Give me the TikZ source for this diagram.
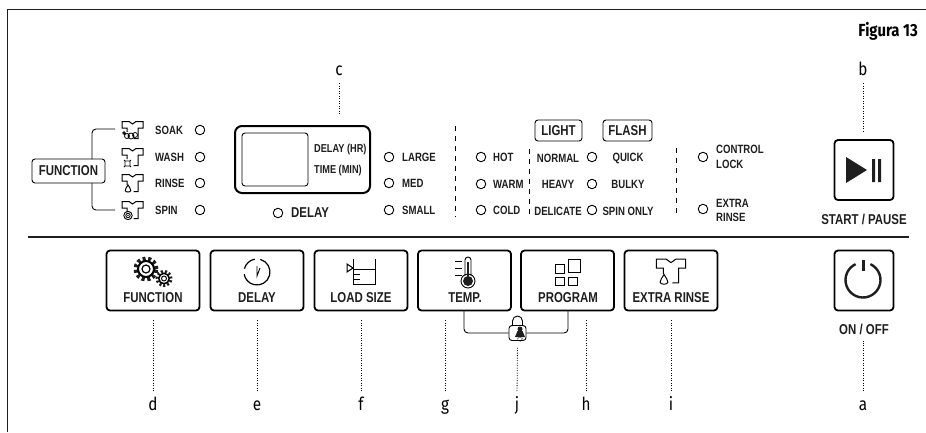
\documentclass[tikz,border=0pt]{standalone}
\usepackage{fontspec}
\usepackage{tikz}
\usetikzlibrary{arrows.meta,positioning,calc}
\newfontfamily\panelfont[FakeStretch=0.8]{Liberation Sans}
\newfontfamily\letterfont[FakeStretch=0.85]{Fira Sans}
\definecolor{panelink}{RGB}{30,30,30}

\tikzset{
    shirtbody/.pic={
        \draw[line width=1pt] (1,8.5) -- (5.5,8.5) -- (5.5,-2) -- (10.5,-2) -- (10.5,-8.5) -- (3.5,-8.5) -- (0,-6) -- (-3.5,-8.5) -- (-10.5,-8.5) -- (-10.5,-2) -- (-5.5,-2) -- (-5.5,2);
    },
    dropmark/.pic={
        \draw[line width=1pt] (0,-4) .. controls (1.2,-1.5) and (2.8,-0.5) .. (2.8,1.5) .. controls (2.8,3.5) and (-2.8,3.5) .. (-2.8,1.5) .. controls (-2.8,-0.5) and (-1.2,-1.5) .. (0,-4) -- cycle;
    }
}

\begin{document}
\begin{tikzpicture}[
    x=1pt,y=-1pt,
    lbl/.style={font=\panelfont\fontsize{12}{14}\selectfont\bfseries,inner sep=0,anchor=west,text=panelink},
    ctrlbl/.style={lbl,anchor=center},
    biglbl/.style={font=\panelfont\fontsize{14.3}{16}\selectfont\bfseries,inner sep=0,text=panelink},
    led/.style={draw,circle,line width=0.9pt,minimum size=9.5pt,inner sep=0},
    tagbox/.style={draw,line width=0.9pt,rounded corners=3pt,inner sep=0,font=\panelfont\fontsize{14.3}{16}\selectfont\bfseries,text=panelink},
    btn/.style={draw,line width=1.8pt,rounded corners=3.5pt,minimum width=93pt,minimum height=60pt,inner sep=0},
    roundbtn/.style={btn,minimum width=59pt},
    letter/.style={font=\letterfont\fontsize{18}{18}\selectfont,inner sep=0,text height=13pt,text depth=4pt,anchor=north},
    callout/.style={line width=0.8pt,dash pattern=on 0.9pt off 1.6pt},
    sepline/.style={line width=0.8pt,dash pattern=on 5pt off 5pt},
    >=Stealth
]
\useasboundingbox (0,0) rectangle (926,432);

\draw[line width=1.2pt,panelink] (7.5,432) -- (7.5,9.5) -- (926,9.5);
\draw[line width=1.2pt,panelink] (28,237) -- (909,237);
\node[inner sep=0,anchor=east,font=\letterfont\fontsize{17.5}{18}\selectfont\bfseries] (figtitle) at (918,31) {Figura 13};

\node[tagbox,minimum width=73pt,minimum height=24pt] (fnlabel) at (68.5,171) {FUNCTION};
\pic at (132.5,130) {shirtbody};
\pic at (132.5,157) {shirtbody};
\pic at (132.5,183) {shirtbody};
\pic at (132.5,210) {shirtbody};
\draw[line width=0.8pt,fill=white] (124,133) circle[radius=1.2pt] (127,136) circle[radius=2.5pt] (131,136) circle[radius=3pt] (135,135) circle[radius=2.5pt];
\draw[line width=0.8pt] (125,161) rectangle (130,166) (124,160) -- (125,161) (131,160) -- (130,161) (124,167) -- (125,166) (131,167) -- (130,166);
\pic at (128,189) {dropmark};
\draw[line width=0.9pt] (128,215.5) circle[radius=4.2pt] (128,215.5) circle[radius=2.2pt];
\fill[panelink] (128,215.5) circle[radius=0.8pt];

\coordinate (soakend) at (115,129);
\coordinate (spinend) at (115,210);
\coordinate (fntop) at (92,159);
\coordinate (fnbottom) at (92,183);
\draw[line width=0.9pt,rounded corners=4pt] (soakend) -| (fntop);
\draw[line width=0.9pt,rounded corners=4pt] (spinend) -| (fnbottom);

\node[lbl] (soak) at (155,130) {SOAK};
\node[lbl] (wash) at (155,157) {WASH};
\node[lbl] (rinse) at (155,183) {RINSE};
\node[lbl] (spin) at (155,210) {SPIN};
\node[led] (ledsoak) at (200,130) {};
\node[led] (ledwash) at (200,157) {};
\node[led] (ledrinse) at (200,183) {};
\node[led] (ledspin) at (200,210) {};

\node[draw,line width=2pt,rounded corners=7pt,minimum width=135pt,minimum height=67pt,inner sep=0] (display) at (302.5,159.5) {};
\node[draw,line width=0.9pt,rounded corners=3pt,minimum width=66pt,minimum height=53pt,inner sep=0] (screen) at (275,159.5) {};
\node[lbl,font=\panelfont\fontsize{11.5}{14}\selectfont\bfseries] (delayhr) at (314,150) {DELAY (HR)};
\node[lbl,font=\panelfont\fontsize{11.5}{14}\selectfont\bfseries] (timemin) at (314,171) {TIME (MIN)};
\node[led] (leddelay) at (278,213) {};
\node[biglbl,anchor=west] (delaytext) at (291,213) {DELAY};

\node[led] (ledlarge) at (389,157) {};
\node[led] (ledmed) at (389,183) {};
\node[led] (ledsmall) at (389,210) {};
\node[lbl] (large) at (402,157) {LARGE};
\node[lbl] (med) at (402,183) {MED};
\node[lbl] (small) at (402,210) {SMALL};

\draw[sepline] (455,126) -- (455,217);
\draw[sepline] (529,149) -- (529,218);
\draw[sepline] (676,148) -- (676,217);

\node[led] (ledhot) at (481,157) {};
\node[led] (ledwarm) at (481,184) {};
\node[led] (ledcold) at (481,210) {};
\node[lbl] (hot) at (493,157) {HOT};
\node[lbl] (warm) at (493,184) {WARM};
\node[lbl] (cold) at (493,210) {COLD};

\node[tagbox,minimum width=47pt,minimum height=21pt] (light) at (558.5,130.5) {LIGHT};
\node[tagbox,minimum width=49pt,minimum height=21pt] (flash) at (627.5,130.5) {FLASH};
\node[ctrlbl] (normal) at (558,158) {NORMAL};
\node[ctrlbl] (heavy) at (558,184) {HEAVY};
\node[ctrlbl] (delicate) at (558,211) {DELICATE};
\node[led] (lednormal) at (592,157) {};
\node[led] (ledheavy) at (592,184) {};
\node[led] (leddelicate) at (592,210) {};
\node[ctrlbl] (quick) at (628,158) {QUICK};
\node[ctrlbl] (bulky) at (628,184) {BULKY};
\node[ctrlbl] (spinonly) at (628,211) {SPIN ONLY};

\node[led] (ledlock) at (703,157) {};
\node[led] (ledextra) at (703,209) {};
\node[lbl,align=left,font=\panelfont\fontsize{12}{14.5}\selectfont\bfseries] (ctrllock) at (716,157) {CONTROL\\LOCK};
\node[lbl,align=left,font=\panelfont\fontsize{12}{14.5}\selectfont\bfseries] (extrarinse) at (716,210.5) {EXTRA\\RINSE};

\node[roundbtn] (startbtn) at (864,170) {};
\fill[panelink] (846,157) -- (867,170) -- (846,183) -- cycle;
\fill[panelink] (872,159) rectangle (875,182) (878,159) rectangle (881,182);
\node[biglbl] (starttext) at (864,219) {START / PAUSE};

\node[btn] (btnfunction) at (153,280.5) {};
\node[btn] (btndelay) at (257,280.5) {};
\node[btn] (btnload) at (361,280.5) {};
\node[btn] (btntemp) at (464.5,280.5) {};
\node[btn] (btnprogram) at (567.5,280.5) {};
\node[btn] (btnextra) at (671,280.5) {};
\node[roundbtn] (btnpower) at (864,280.5) {};

\node[biglbl] (tfunction) at (153,298) {FUNCTION};
\node[biglbl] (tdelay) at (257,298) {DELAY};
\node[biglbl] (tload) at (361,298) {LOAD SIZE};
\node[biglbl] (ttemp) at (465,298) {TEMP.};
\node[biglbl] (tprogram) at (568,298) {PROGRAM};
\node[biglbl] (textra) at (671,298) {EXTRA RINSE};
\node[biglbl] (onoff) at (864,329) {ON / OFF};

\draw[line width=4pt,dash pattern=on 3pt off 2.6pt,panelink] (146,269) circle[radius=10.5pt];
\draw[line width=2pt,fill=white] (146,269) circle[radius=8pt];
\draw[line width=1.2pt] (146,269) circle[radius=4pt];
\draw[line width=3pt,dash pattern=on 2pt off 2pt,panelink] (164,278.5) circle[radius=7pt];
\draw[line width=1.5pt,fill=white] (164,278.5) circle[radius=5.2pt];
\draw[line width=0.9pt] (164,278.5) circle[radius=2.5pt];

\draw[line width=1.2pt] (257,272) ++(75:13pt) arc[start angle=75,end angle=-170,radius=13pt];
\draw[line width=1.2pt] (257,272) ++(165:13pt) arc[start angle=165,end angle=100,radius=13pt];
\draw[line width=0.9pt] (257,266) -- (257,276) -- (260,268);

\draw[line width=1pt] (353,259) -- (353,284) -- (375,284) -- (375,259);
\draw[line width=1pt] (353,269) -- (375,269) (353,274) -- (360,274) (353,279) -- (360,279);
\draw[line width=1pt] (347,264) -- (353,268) -- (347,272) -- cycle;

\draw[line width=1pt] (455,261) -- (462,261) (455,268) -- (462,268) (455,275) -- (462,275);
\draw[line width=0.9pt] (465,276) -- (465,260) arc[start angle=180,end angle=0,radius=3pt] -- (471,276);
\draw[line width=0.9pt] (468,281) circle[radius=7pt];
\fill[panelink] (468,281) circle[radius=5pt];
\draw[line width=1.6pt,panelink] (468,262) -- (468,278);

\draw[line width=1pt] (555,264) rectangle (564,273) (568,259) rectangle (580.5,272) (555,277) rectangle (564,285) (568,277) rectangle (577,285);

\pic[scale=1.4] at (671,271) {shirtbody};
\pic[scale=1.4] at (664,280) {dropmark};

\draw[line width=2.4pt,panelink] (863,280) ++(65:17.5pt) arc[start angle=65,end angle=-245,radius=17.5pt];
\draw[line width=3pt,panelink] (863,260) -- (863,271);

\node[draw,line width=0.9pt,rounded corners=3pt,minimum width=17pt,minimum height=15pt,inner sep=0] (lockicon) at (517.5,333) {};
\draw[line width=0.9pt] (512.5,326) -- (512.5,321) arc[start angle=180,end angle=0,radius=5pt] -- (522.5,326);
\fill[panelink] (520,329) circle[radius=2.5pt] (515,337) -- (517.5,331) -- (522.5,331) -- (525,337) -- cycle;
\draw[line width=0.7pt,dash pattern=on 1pt off 1pt] (520,339) circle[radius=2.2pt];
\coordinate (tempdrop) at (464,311);
\coordinate (progdrop) at (568,311);
\draw[line width=0.9pt,rounded corners=4pt] (tempdrop) |- (lockicon.west);
\draw[line width=0.9pt,rounded corners=4pt] (progdrop) |- (lockicon.east);

\node[letter] (la) at (863,397) {a};
\node[letter] (lb) at (863,62) {b};
\node[letter] (lc) at (339,62) {c};
\node[letter] (ld) at (153,397) {d};
\node[letter] (le) at (257,397) {e};
\node[letter] (lf) at (361,397) {f};
\node[letter] (lg) at (445,397) {g};
\node[letter] (lh) at (586,397) {h};
\node[letter] (li) at (671,397) {i};
\node[letter] (lj) at (517,397) {j};

\draw[callout,shorten <=6pt,shorten >=6pt] (la.north) -- (onoff.south -| la);
\draw[callout,shorten <=4pt,shorten >=7pt] (lb.south) -- (startbtn.north -| lb);
\draw[callout,shorten <=4pt,shorten >=10pt] (lc.south) -- (display.north -| lc);
\draw[callout,shorten <=6pt,shorten >=9pt] (ld.north) -- (btnfunction.south);
\draw[callout,shorten <=6pt,shorten >=9pt] (le.north) -- (btndelay.south);
\draw[callout,shorten <=6pt,shorten >=9pt] (lf.north) -- (btnload.south);
\draw[callout,shorten <=6pt,shorten >=9pt] (lg.north) -- (btntemp.south -| lg);
\draw[callout,shorten <=6pt,shorten >=9pt] (lh.north) -- (btnprogram.south -| lh);
\draw[callout,shorten <=6pt,shorten >=9pt] (li.north) -- (btnextra.south);
\draw[callout,shorten <=6pt,shorten >=7pt] (lj.north) -- (lockicon.south);
\end{tikzpicture}
\end{document}
